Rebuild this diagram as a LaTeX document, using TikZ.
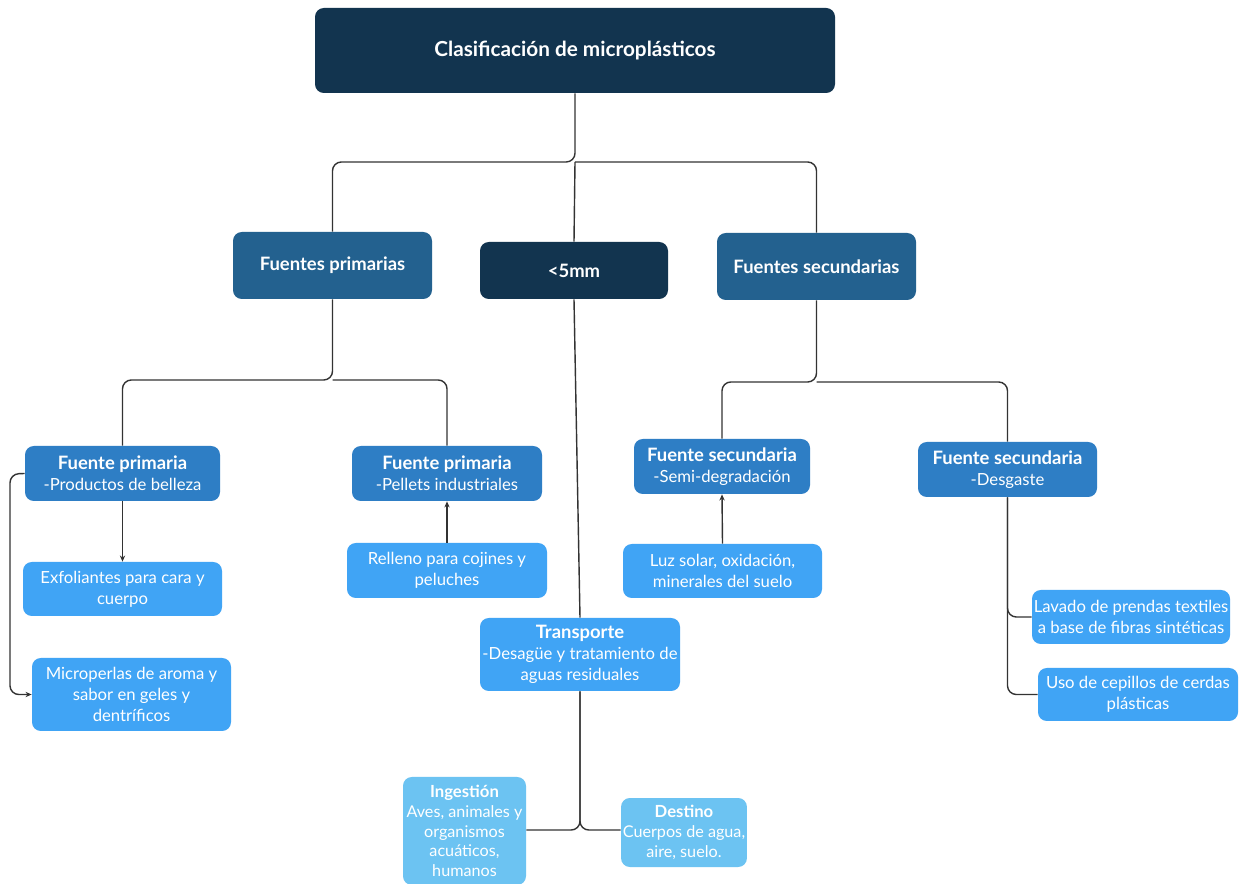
\documentclass[tikz,border=0pt]{standalone}
\usepackage{fontspec}
\setmainfont{Lato}
\usetikzlibrary{arrows.meta}
\definecolor{navy}{HTML}{12344F}
\definecolor{midA}{HTML}{23618F}
\definecolor{midB}{HTML}{2E7EC5}
\definecolor{lightA}{HTML}{40A4F5}
\definecolor{lightB}{HTML}{6CC3F2}
\definecolor{lineC}{HTML}{333333}
\newcommand\hd[1]{{\bfseries\fontsize{10.5}{12}\selectfont #1}}
\newcommand\hs[1]{{\bfseries\fontsize{9.5}{11.3}\selectfont #1}}
\tikzset{
  box/.style={rounded corners=5pt, draw=none, text=white, align=center, inner sep=1pt, font=\fontsize{9.5}{12}\selectfont},
  bnavy/.style={box, fill=navy, font=\bfseries\fontsize{10.5}{13}\selectfont},
  btitle/.style={box, fill=navy, font=\bfseries\fontsize{11.8}{14}\selectfont},
  bmidA/.style={box, fill=midA, font=\bfseries\fontsize{10.5}{13}\selectfont},
  bmidB/.style={box, fill=midB},
  blightA/.style={box, fill=lightA},
  blightB/.style={box, fill=lightB, font=\fontsize{9.2}{11.3}\selectfont},
  conn/.style={draw=lineC, line width=0.8pt, rounded corners=5pt},
  arr/.style={conn, -{Stealth[length=3.5pt,width=3pt]}},
}
\newcommand\bx[6]{\node[#1, minimum width=#4*0.02cm, minimum height=#5*0.02cm] (#2) at (#3) {#6};}
\begin{document}
\begin{tikzpicture}[x=0.02cm,y=-0.02cm]
\useasboundingbox (0,0) rectangle (1241,884);
\fill[white] (0,0) rectangle (1241,884);
\begin{scope}
\clip (0,0) rectangle (1241,884);
\bx{btitle}{TI}{575,50.5}{520}{85}{Clasificación de microplásticos}
\bx{bmidA}{FP}{332.5,265.5}{199}{67}{Fuentes primarias}
\bx{bnavy}{M5}{574,270.5}{188}{57}{<5mm}
\bx{bmidA}{FS}{816.5,266.5}{199}{67}{Fuentes secundarias}
\bx{bmidB}{PB}{122.5,473.5}{195}{55}{\hd{Fuente primaria}\\-Productos de belleza}
\bx{bmidB}{PI}{447,473.5}{190}{55}{\hd{Fuente primaria}\\-Pellets industriales}
\bx{bmidB}{SD}{722,466.5}{176}{55}{\hd{Fuente secundaria}\\-Semi-degradación}
\bx{bmidB}{DG}{1007.5,469.5}{179}{55}{\hd{Fuente secundaria}\\-Desgaste}
\bx{blightA}{EX}{122.5,589}{199}{54}{Exfoliantes para cara y\\cuerpo}
\bx{blightA}{MI}{131.5,694.5}{199}{73}{Microperlas de aroma y\\sabor en geles y\\dentríficos}
\bx{blightA}{RE}{447,570.5}{200}{55}{Relleno para cojines y\\peluches}
\bx{blightA}{LU}{722.5,571}{199}{54}{Luz solar, oxidación,\\minerales del suelo}
\bx{blightA}{TR}{580,654.5}{200}{73}{\hd{Transporte}\\-Desagüe y tratamiento de\\aguas residuales}
\bx{blightA}{LA}{1131,617}{198}{54}{Lavado de prendas textiles\\a base de fibras sintéticas}
\bx{blightA}{US}{1138,694.5}{200}{53}{Uso de cepillos de cerdas\\plásticas}
\bx{blightB}{IN}{464.5,831}{123}{108}{\hs{Ingestión}\\Aves, animales y\\organismos\\acuáticos,\\humanos}
\bx{blightB}{DE}{684,832.5}{124}{69}{\hs{Destino}\\Cuerpos de agua,\\aire, suelo.}
\end{scope}
% connectors
\coordinate (j1) at (575,162);
\coordinate (j2) at (332.5,380);
\coordinate (j3) at (816.5,382);
\coordinate (j4) at (580,830);
\coordinate (lp) at (10,474);
\draw[conn] (TI.south) -- (j1) -| (FP.north);
\draw[conn] (j1) -| (FS.north);
\draw[conn] (j1) -- (M5.north);
\draw[conn] (M5.south) -- (TR.north);
\draw[conn] (FP.south) -- (j2) -| (PB.north);
\draw[conn] (j2) -| (PI.north);
\draw[conn] (FS.south) -- (j3) -| (SD.north);
\draw[conn] (j3) -| (DG.north);
\draw[arr] (PB.south) -- (EX.north);
\draw[arr] (PB.west) -- (lp) |- (MI.west);
\draw[arr] (RE.north) -- (PI.south);
\draw[arr] (LU.north) -- (SD.south);
\draw[conn] (DG.south) |- (LA.west);
\draw[conn] (DG.south) |- (US.west);
\draw[conn] (TR.south) -- (j4) -- (j4 -| IN.east);
\draw[conn] (TR.south) -- (j4) -- (j4 -| DE.west);
\end{tikzpicture}
\end{document}
